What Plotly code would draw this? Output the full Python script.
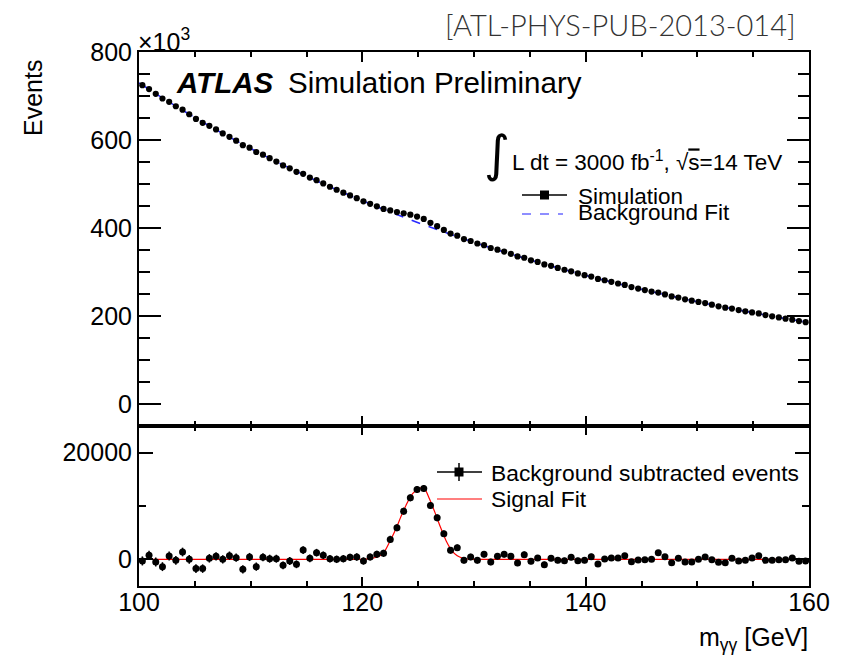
import numpy as np
import plotly.graph_objects as go
from plotly.subplots import make_subplots

# ---------------------------------------------------------------- data
# m_gg histogram: 100 bins of 0.6 GeV between 100 and 160 GeV
M_MIN, M_MAX, N_BINS = 100.0, 160.0, 100
bin_edges = np.linspace(M_MIN, M_MAX, N_BINS + 1)
bin_centres = 0.5 * (bin_edges[:-1] + bin_edges[1:])

# simulated diphoton events per bin
simulation = [
    724700, 715850, 704850, 694360, 686870, 676700, 669030, 658560, 647840, 638980,
    632170, 623930, 614870, 607180, 598530, 588190, 582460, 572710, 566630, 558660,
    551040, 542290, 535690, 527760, 523230, 514570, 508620, 501200, 493750, 486900,
    480380, 474080, 467690, 460570, 455040, 449330, 443410, 440000, 436230, 433470,
    430190, 426030, 420590, 411860, 404080, 395690, 387240, 382480, 374930, 370440,
    364770, 360910, 354580, 350800, 346390, 341310, 335420, 332390, 326630, 322800,
    317150, 314000, 309340, 305060, 301520, 296800, 292810, 289500, 284190, 281240,
    277590, 273810, 270520, 265710, 262400, 258880, 255410, 253180, 249000, 244490,
    241960, 237970, 234720, 232010, 229290, 225670, 222090, 219000, 216810, 213360,
    210570, 208130, 205740, 202060, 199300, 196710, 194030, 191690, 188460, 185950,
]

# simulation minus background fit, per bin
bkg_subtracted = [
    -300, 750, -500, -1370, 620, -190, 1370, 0, -1740, -1740,
    190, 560, 0, 690, 310, -1870, 440, -1370, 370, 120,
    120, -1120, -310, -930, 1740, 190, 1250, 750, 120, 0,
    120, 370, 440, -310, 440, 930, 1120, 3740, 5920, 9030,
    11530, 13080, 13270, 10090, 7790, 4800, 1680, 2180, -190, 440,
    -190, 930, -500, 560, 930, 560, -690, 870, -370, 250,
    -1000, 190, -190, -250, 370, -250, -190, 500, -870, 60,
    250, 250, 690, -440, -120, -60, 0, 1250, 500, -620,
    190, -500, -500, 0, 440, -60, -560, -620, 190, -310,
    -190, 250, 690, -190, -190, -60, -60, 250, -370, -310,
]

# background fit curve
bkg_fit_m = list(range(100, 161, 2))
bkg_fit_val = [
    730000, 697300, 666100, 636300, 607900, 580700, 554700, 529900, 506200, 483600,
    461900, 441300, 421500, 402700, 384700, 367500, 351000, 335300, 320300, 306000,
    292300, 279200, 266700, 254800, 243400, 232500, 222100, 212200, 202700, 193600,
    185000,
]

# signal fit curve
sig_fit_m = [100, 119, 120, 120.5, 121, 121.5, 122, 122.5, 123, 123.5, 124, 124.5,
             125, 125.3, 125.6, 126, 126.5, 127, 127.5, 128, 128.5, 129, 129.5,
             130, 131, 160]
sig_fit_val = [0, 0, 20, 100, 250, 600, 1500, 3500, 5700, 8200, 10500, 12300,
               13250, 13400, 13200, 11400, 8800, 6000, 3500, 1700, 650, 200, 50,
               0, 0, 0]

# Poisson uncertainty on each bin
stat_err = np.sqrt(np.asarray(simulation, dtype=float))

# axis ticks
top_tickvals = [0, 200000, 400000, 600000, 800000]
top_ticktext = ["0", "200", "400", "600", "800"]
bot_tickvals = [0, 20000]
bot_ticktext = ["0", "20000"]
x_tickvals = [100, 120, 140, 160]

# ---------------------------------------------------------------- style
FONT = "Liberation Sans, Arial, Helvetica, sans-serif"
W, H = 859, 658
PL, PR, PT, PB = 139, 809, 52, 586   # plot frame in pixels


def px(x):
    return (x - PL) / (PR - PL)


def py(y):
    return (PB - y) / (PB - PT)


fig = make_subplots(rows=2, cols=1, shared_xaxes=True, vertical_spacing=0,
                    row_heights=[374, 160])

# top panel: background fit and simulation
fig.add_trace(go.Scatter(
    x=bkg_fit_m, y=bkg_fit_val, mode="lines",
    line=dict(color="#2a2aff", width=1.6, dash="dash", shape="spline"),
    hoverinfo="skip", showlegend=False), row=1, col=1)
fig.add_trace(go.Scatter(
    x=bin_centres, y=simulation, mode="markers",
    marker=dict(color="black", size=6.2, symbol="circle"),
    error_y=dict(type="data", array=stat_err, color="black", thickness=1, width=0),
    showlegend=False), row=1, col=1)

# bottom panel: signal fit and background-subtracted events
fig.add_trace(go.Scatter(
    x=sig_fit_m, y=sig_fit_val, mode="lines",
    line=dict(color="#ff0000", width=1.2, shape="spline", smoothing=0.6),
    hoverinfo="skip", showlegend=False), row=2, col=1)
fig.add_trace(go.Scatter(
    x=bin_centres, y=bkg_subtracted, mode="markers",
    marker=dict(color="black", size=7, symbol="circle"),
    error_y=dict(type="data", array=stat_err, color="black", thickness=1.5, width=0),
    showlegend=False), row=2, col=1)

axis_common = dict(
    showline=True, linecolor="black", linewidth=2, mirror="ticks",
    ticks="inside", tickcolor="black", tickwidth=2,
    showgrid=False, zeroline=False,
    tickfont=dict(family=FONT, size=25, color="black"),
)

fig.update_xaxes(range=[M_MIN, M_MAX], tickvals=x_tickvals, ticklen=10,
                 minor=dict(dtick=5, tick0=100, ticklen=5, tickwidth=2,
                            tickcolor="black", ticks="inside", showgrid=False),
                 **axis_common)
fig.update_xaxes(showticklabels=False, row=1, col=1)
fig.update_xaxes(ticklen=9, ticklabelstandoff=-7, row=2, col=1)

fig.update_yaxes(range=[-50000, 800000], tickvals=top_tickvals, ticktext=top_ticktext,
                 ticklen=22,
                 minor=dict(dtick=50000, tick0=0, ticklen=11, tickwidth=2,
                            tickcolor="black", ticks="inside", showgrid=False),
                 row=1, col=1, **axis_common)
fig.update_yaxes(range=[-5000, 25000], tickvals=bot_tickvals, ticktext=bot_ticktext,
                 ticklen=14,
                 minor=dict(tickvals=[10000], ticklen=7, tickwidth=2,
                            tickcolor="black", ticks="inside", showgrid=False),
                 row=2, col=1, **axis_common)

# ---------------------------------------------------------------- text
ann = []


def text(x, y, s, size, xanchor="left", yanchor="middle", family=FONT,
         color="black", angle=0, weight=None):
    f = dict(family=family, size=size, color=color)
    if weight is not None:
        f["weight"] = weight
    ann.append(dict(x=px(x), y=py(y), xref="paper", yref="paper", text=s,
                    showarrow=False, xanchor=xanchor, yanchor=yanchor,
                    font=f, textangle=angle))


text(620, 25, "[ATL-PHYS-PUB-2013-014]", 29, xanchor="center",
     family="Lato, Open Sans, sans-serif", color="#333333", weight=300)
text(136, 40, "×10<sup>3</sup>", 25, xanchor="left")
text(33, 98, "Events", 25, xanchor="center", angle=-90)
text(810, 639, "m<sub>γγ</sub> [GeV]", 25, xanchor="right")

text(174, 82, "<b><i>ATLAS</i></b>", 29.5)
text(286, 82, "Simulation Preliminary", 29.5)

text(497, 154, "∫", 50, xanchor="center", family="DejaVu Sans, sans-serif")
text(510, 161, "L dt = 3000 fb<sup>-1</sup>, √<span style='text-decoration:overline'>s</span>=14 TeV", 22.5)
text(576, 196, "Simulation", 22.5)
text(576, 213, "Background Fit", 22.5)

text(489, 473, "Background subtracted events", 22.8)
text(489, 499, "Signal Fit", 22.8)

# legend samples
shapes = []


def seg(x0, y0, x1, y1, color="black", width=1.5, dash="solid"):
    shapes.append(dict(type="line", xref="paper", yref="paper",
                       x0=px(x0), y0=py(y0), x1=px(x1), y1=py(y1),
                       line=dict(color=color, width=width, dash=dash)))


def box(xc, yc, s):
    shapes.append(dict(type="rect", xref="paper", yref="paper",
                       x0=px(xc - s / 2), x1=px(xc + s / 2),
                       y0=py(yc + s / 2), y1=py(yc - s / 2),
                       fillcolor="black", line=dict(width=0)))


seg(522, 195, 567, 195)
box(544.5, 195, 9)
seg(522, 214, 563, 214, color="#6a6aff", width=1.5, dash="dash")

seg(437, 472, 482, 472)
seg(459, 463, 459, 481)
box(459, 472, 9)
seg(437, 499, 482, 499, color="#ff0000", width=1.2)

fig.update_layout(
    width=W, height=H,
    margin=dict(l=PL, r=W - PR, t=PT, b=H - PB, pad=0),
    paper_bgcolor="white", plot_bgcolor="white",
    font=dict(family=FONT, color="black"),
    annotations=ann, shapes=shapes, showlegend=False,
)

fig.write_html("out.html")
